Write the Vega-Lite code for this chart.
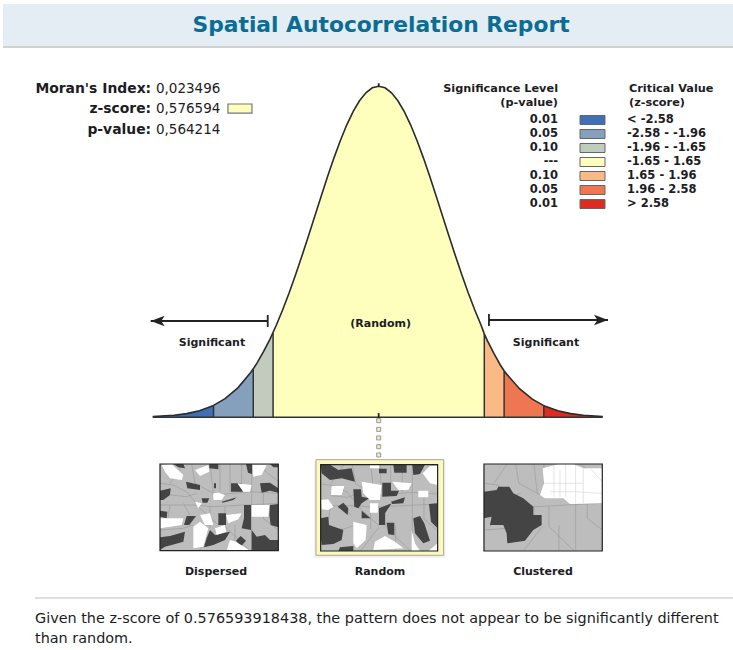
{"$schema":"https://vega.github.io/schema/vega-lite/v6.json","width":733,"height":650,"padding":0,"autosize":{"type":"none"},"background":"white",
"title":{"text":"Spatial Autocorrelation Report","font":"DejaVu Sans","fontSize":21.8,"fontWeight":"bold","color":"#0b6d93","anchor":"middle","frame":"group","baseline":"middle","offset":-46.5,"dx":14.5,"zindex":1},
"config":{"view":{"stroke":null},"text":{"font":"DejaVu Sans","fontSize":10,"color":"#1c1c24"}},
"datasets":{
"curve":[
{"band":"b1","z":-3.53,"d":0.0008},{"band":"b1","z":-3.2,"d":0.0024},{"band":"b1","z":-3.0,"d":0.0044},{"band":"b1","z":-2.8,"d":0.0079},{"band":"b1","z":-2.58,"d":0.0143},
{"band":"b2","z":-2.58,"d":0.0143},{"band":"b2","z":-2.4,"d":0.0224},{"band":"b2","z":-2.2,"d":0.0355},{"band":"b2","z":-2.0,"d":0.054},{"band":"b2","z":-1.96,"d":0.0584},
{"band":"b3","z":-1.96,"d":0.0584},{"band":"b3","z":-1.9,"d":0.0656},{"band":"b3","z":-1.8,"d":0.079},{"band":"b3","z":-1.7,"d":0.094},{"band":"b3","z":-1.65,"d":0.1023},
{"band":"b4","z":-1.65,"d":0.1023},{"band":"b4","z":-1.6,"d":0.1109},{"band":"b4","z":-1.5,"d":0.1295},{"band":"b4","z":-1.4,"d":0.1497},{"band":"b4","z":-1.3,"d":0.1714},{"band":"b4","z":-1.2,"d":0.1942},{"band":"b4","z":-1.1,"d":0.2179},{"band":"b4","z":-1.0,"d":0.242},{"band":"b4","z":-0.9,"d":0.2661},{"band":"b4","z":-0.8,"d":0.2897},{"band":"b4","z":-0.7,"d":0.3123},{"band":"b4","z":-0.6,"d":0.3332},{"band":"b4","z":-0.5,"d":0.3521},{"band":"b4","z":-0.4,"d":0.3683},{"band":"b4","z":-0.3,"d":0.3814},{"band":"b4","z":-0.2,"d":0.391},{"band":"b4","z":-0.1,"d":0.397},{"band":"b4","z":0,"d":0.3989},{"band":"b4","z":0.1,"d":0.397},{"band":"b4","z":0.2,"d":0.391},{"band":"b4","z":0.3,"d":0.3814},{"band":"b4","z":0.4,"d":0.3683},{"band":"b4","z":0.5,"d":0.3521},{"band":"b4","z":0.6,"d":0.3332},{"band":"b4","z":0.7,"d":0.3123},{"band":"b4","z":0.8,"d":0.2897},{"band":"b4","z":0.9,"d":0.2661},{"band":"b4","z":1.0,"d":0.242},{"band":"b4","z":1.1,"d":0.2179},{"band":"b4","z":1.2,"d":0.1942},{"band":"b4","z":1.3,"d":0.1714},{"band":"b4","z":1.4,"d":0.1497},{"band":"b4","z":1.5,"d":0.1295},{"band":"b4","z":1.6,"d":0.1109},{"band":"b4","z":1.65,"d":0.1005},
{"band":"b5","z":1.65,"d":0.1005},{"band":"b5","z":1.7,"d":0.092},{"band":"b5","z":1.8,"d":0.077},{"band":"b5","z":1.9,"d":0.063},{"band":"b5","z":1.96,"d":0.056},
{"band":"b6","z":1.96,"d":0.056},{"band":"b6","z":2.0,"d":0.052},{"band":"b6","z":2.2,"d":0.0345},{"band":"b6","z":2.4,"d":0.0218},{"band":"b6","z":2.58,"d":0.014},
{"band":"b7","z":2.58,"d":0.014},{"band":"b7","z":2.8,"d":0.0079},{"band":"b7","z":3.0,"d":0.0044},{"band":"b7","z":3.2,"d":0.0024},{"band":"b7","z":3.5,"d":0.0008}],
"legendRows":[{"band":"b1","p":"0.01","crit":"\u00a0< -2.58"},{"band":"b2","p":"0.05","crit":"-2.58 - -1.96"},{"band":"b3","p":"0.10","crit":"-1.96 - -1.65"},{"band":"b4","p":"---","crit":"-1.65 - 1.65"},{"band":"b5","p":"0.10","crit":"\u00a01.65 - 1.96"},{"band":"b6","p":"0.05","crit":"\u00a01.96 - 2.58"},{"band":"b7","p":"0.01","crit":"\u00a0> 2.58"}],
"legendHead":[{"band":"h1","p":"Significance Level","crit":"Critical Value"},{"band":"h2","p":"(p-value)","crit":"(z-score)"}],
"net":[{"type":"Feature","properties":{},"geometry":{"type":"MultiLineString","coordinates":[
[[30,100],[70,105],[110,125],[150,175],[205,225]],[[125,42],[135,100],[200,135],[300,125],[385,130]],[[305,42],[305,302]],[[30,165],[130,165],[190,170],[280,165],[385,160]],[[255,225],[255,300]],[[180,42],[190,130]],[[240,42],[240,125]],[[100,160],[120,195]],[[60,135],[110,140],[140,130]],[[30,240],[100,235],[130,225]],[[205,230],[150,300]],[[320,42],[385,95]],[[210,42],[210,125]],[[275,42],[275,125]],[[340,130],[340,205],[385,240]],[[180,170],[180,235]],[[225,170],[225,230],[300,302]],[[60,165],[50,230]],[[100,42],[60,100]],
[[512,102],[552,107],[592,127],[632,177],[687,227]],[[607,44],[617,102],[682,137],[782,127],[863,132]],[[787,44],[787,303]],[[512,167],[612,167],[672,172],[762,167],[863,162]],[[737,227],[737,302]],[[662,44],[672,132]],[[722,44],[722,127]],[[582,162],[602,197]],[[542,137],[592,142],[622,132]],[[512,242],[582,237],[612,227]],[[687,232],[632,302]],[[802,44],[863,97]],[[692,44],[692,127]],[[757,44],[757,127]],[[822,132],[822,207],[863,242]],[[662,172],[662,237]],[[707,172],[707,232],[782,303]],[[542,167],[532,232]],[[582,44],[542,102]],
[[1002,100],[1042,105],[1082,125],[1122,175],[1177,225]],[[1097,42],[1107,100],[1172,135],[1272,125],[1357,130]],[[1277,42],[1277,302]],[[1002,165],[1102,165],[1162,170],[1252,165],[1357,160]],[[1227,225],[1227,300]],[[1152,42],[1162,130]],[[1212,42],[1212,125]],[[1072,160],[1092,195]],[[1032,135],[1082,140],[1112,130]],[[1002,240],[1072,235],[1102,225]],[[1177,230],[1122,300]],[[1292,42],[1357,95]],[[1182,42],[1182,125]],[[1247,42],[1247,125]],[[1312,130],[1312,205],[1357,240]],[[1152,170],[1152,235]],[[1197,170],[1197,230],[1272,302]],[[1032,165],[1022,230]],[[1072,42],[1032,100]]]}}],
"whiteNet":[{"type":"Feature","properties":{},"geometry":{"type":"MultiLineString","coordinates":[[[1212,42],[1212,140]],[[1247,42],[1247,140]],[[1277,42],[1277,160]],[[1182,100],[1300,100]],[[1300,55],[1300,160]],[[1230,60],[1230,140]],[[1200,125],[1272,125],[1357,130]],[[1320,55],[1357,95]]]}}],
"frames":[{"type":"Feature","properties":{},"geometry":{"type":"MultiPolygon","coordinates":[[[[30,42],[385,42],[385,302],[30,302],[30,42]]],[[[512,44],[863,44],[863,303],[512,303],[512,44]]],[[[1002,42],[1357,42],[1357,303],[1002,303],[1002,42]]]]}}],
"shadow":[{"type":"Feature","properties":{},"geometry":{"type":"Polygon","coordinates":[[[492,34],[887,34],[887,324],[492,324],[492,34]]]}}],
"mat":[{"type":"Feature","properties":{},"geometry":{"type":"Polygon","coordinates":[[[498,29],[881,29],[881,316],[498,316],[498,29]]]}}],
"base":[{"type":"Feature","properties":{},"geometry":{"type":"MultiPolygon","coordinates":[[[[30,42],[385,42],[385,302],[30,302],[30,42]]],[[[512,44],[863,44],[863,303],[512,303],[512,44]]],[[[1002,42],[1357,42],[1357,303],[1002,303],[1002,42]]]]}}],
"maps":[
{"type":"Feature","properties":{"cls":"dark"},"geometry":{"type":"MultiPolygon","coordinates":[
[[[70,42],[100,42],[105,55],[85,52],[70,42]]],
[[[178,42],[205,42],[205,58],[178,55],[178,42]]],
[[[288,42],[306,42],[306,72],[294,68],[288,42]]],
[[[360,42],[385,42],[385,52],[370,52],[360,42]]],
[[[108,95],[150,105],[150,120],[112,115],[108,95]]],
[[[243,100],[275,100],[278,125],[243,125],[243,100]]],
[[[330,100],[360,98],[385,115],[385,128],[360,122],[335,128],[330,100]]],
[[[30,122],[62,115],[60,135],[40,150],[30,150],[30,122]]],
[[[155,145],[178,145],[172,158],[158,158],[155,145]]],
[[[215,155],[260,142],[250,150],[218,158],[215,155]]],
[[[192,100],[198,100],[198,115],[192,115],[192,100]]],
[[[30,182],[52,185],[50,205],[30,200],[30,182]]],
[[[110,198],[138,198],[118,225],[102,225],[110,198]]],
[[[205,190],[228,190],[228,225],[205,225],[205,190]]],
[[[282,165],[303,165],[303,240],[275,235],[282,205],[282,165]]],
[[[360,165],[385,162],[385,232],[362,225],[358,195],[360,165]]],
[[[30,262],[60,258],[105,245],[100,275],[65,285],[45,290],[30,300],[30,262]]],
[[[180,240],[195,255],[240,245],[225,270],[190,285],[162,292],[170,265],[180,240]]],
[[[272,258],[288,272],[272,290],[258,272],[272,258]]],
[[[305,240],[320,260],[345,255],[360,270],[385,270],[385,302],[305,302],[305,240]]],
[[[512,44],[540,44],[565,60],[605,55],[615,95],[575,85],[540,90],[515,70],[512,44]]],
[[[687,56],[710,56],[710,70],[687,70],[687,56]]],
[[[730,44],[770,44],[770,68],[733,68],[730,44]]],
[[[787,44],[825,44],[810,72],[790,75],[787,44]]],
[[[610,118],[633,118],[635,140],[658,145],[635,160],[625,175],[613,170],[610,118]]],
[[[697,98],[723,98],[723,122],[747,122],[740,138],[697,140],[697,98]]],
[[[563,170],[580,158],[595,175],[593,195],[563,170]]],
[[[635,182],[662,205],[635,205],[635,182]]],
[[[723,155],[765,142],[760,160],[727,162],[723,155]]],
[[[687,175],[725,160],[705,190],[705,225],[687,225],[687,175]]],
[[[837,162],[863,160],[863,235],[843,215],[837,162]]],
[[[790,205],[810,198],[823,220],[840,272],[820,280],[795,250],[790,205]]],
[[[710,218],[733,218],[733,255],[715,253],[710,218]]],
[[[512,205],[535,200],[537,225],[580,240],[575,270],[550,282],[515,285],[512,260],[512,205]]],
[[[570,292],[610,288],[610,303],[565,303],[570,292]]],
[[[1002,125],[1040,120],[1045,110],[1078,110],[1090,130],[1120,145],[1150,170],[1150,195],[1175,195],[1175,225],[1150,240],[1125,272],[1072,280],[1070,250],[1060,225],[1020,225],[1025,200],[1002,205],[1002,125]]]]}},
{"type":"Feature","properties":{"cls":"white"},"geometry":{"type":"MultiPolygon","coordinates":[
[[[35,45],[65,42],[100,75],[95,90],[60,85],[45,65],[35,45]]],
[[[135,60],[175,45],[178,65],[150,78],[135,60]]],
[[[308,45],[350,45],[335,75],[310,80],[308,45]]],
[[[205,128],[225,135],[215,150],[190,150],[190,130],[205,128]]],
[[[262,100],[305,105],[300,125],[280,125],[262,100]]],
[[[135,155],[155,160],[145,175],[135,155]]],
[[[305,165],[358,165],[355,200],[305,200],[305,165]]],
[[[228,195],[275,190],[265,208],[235,220],[228,195]]],
[[[150,195],[180,190],[190,225],[165,225],[150,195]]],
[[[130,230],[150,215],[175,235],[160,290],[130,295],[130,230]]],
[[[30,205],[100,205],[95,225],[60,230],[30,235],[30,205]]],
[[[195,235],[225,225],[228,245],[200,255],[195,235]]],
[[[240,270],[258,275],[300,302],[230,302],[240,270]]],
[[[660,44],[687,44],[687,55],[660,55],[660,44]]],
[[[818,70],[840,48],[863,48],[863,105],[840,100],[818,70]]],
[[[545,108],[583,108],[575,135],[543,135],[545,108]]],
[[[512,150],[535,148],[550,170],[535,180],[515,178],[512,150]]],
[[[635,95],[695,105],[690,150],[660,150],[640,130],[635,95]]],
[[[727,95],[785,100],[775,120],[745,120],[727,95]]],
[[[805,122],[835,122],[835,142],[805,142],[805,122]]],
[[[660,160],[685,160],[683,188],[660,188],[660,160]]],
[[[610,215],[650,225],[647,270],[620,295],[610,280],[610,215]]],
[[[675,275],[705,258],[735,275],[760,295],[670,300],[675,275]]],
[[[785,240],[795,280],[810,303],[785,303],[785,240]]],
[[[863,280],[863,303],[835,303],[863,280]]],
[[[1178,55],[1225,42],[1270,42],[1300,55],[1357,55],[1357,160],[1260,162],[1240,145],[1185,145],[1170,135],[1182,100],[1178,55]]]]}}]
},
"resolve":{"scale":{"x":"independent","y":"independent","color":"independent"}},
"layer":[
{"encoding":{"x":{"field":"z","type":"quantitative","axis":null,"scale":{"domain":[-5.917,5.536],"nice":false,"zero":false}},"y":{"field":"d","type":"quantitative","axis":null,"scale":{"domain":[-0.2804,0.5028],"nice":false,"zero":false}}},
"layer":[
{"data":{"values":[{"z":-5.87,"z2":5.536,"d":0.498,"d2":0.4474}]},"mark":{"type":"rect","fill":"#e3edf3"},"encoding":{"x2":{"field":"z2"},"y2":{"field":"d2"}}},
{"data":{"values":[{"z":-5.87,"z2":5.536,"d":0.4462}]},"mark":{"type":"rule","stroke":"#cfd2d3","strokeWidth":2},"encoding":{"x2":{"field":"z2"}}},
{"data":{"values":[{"z":-5.37,"z2":5.536,"d":-0.2177}]},"mark":{"type":"rule","stroke":"#dfdfdf","strokeWidth":2},"encoding":{"x2":{"field":"z2"}}},
{"data":{"name":"curve"},"mark":{"type":"area","opacity":1},"encoding":{"y":{"field":"d","type":"quantitative","stack":null},"y2":{"datum":0},"color":{"field":"band","type":"nominal","legend":null,"scale":{"domain":["b1","b2","b3","b4","b5","b6","b7"],"range":["#3f6fb5","#84a0bd","#c1ccbf","#feffbc","#fbb985","#ee7752","#dc2c20"]}}}},
{"data":{"values":[{"z":-2.58,"d":0.0143},{"z":-1.96,"d":0.0584},{"z":-1.65,"d":0.1023},{"z":1.65,"d":0.1005},{"z":1.96,"d":0.056},{"z":2.58,"d":0.014}]},"mark":{"type":"rule","stroke":"#333","strokeWidth":1.5},"encoding":{"y2":{"datum":0}}},
{"data":{"name":"curve"},"mark":{"type":"line","stroke":"#2b2b2b","strokeWidth":1.6},"encoding":{"detail":{"field":"band"}}},
{"data":{"values":[{"z":-3.53,"z2":3.5,"d":0}]},"mark":{"type":"rule","stroke":"#333","strokeWidth":1.6},"encoding":{"x2":{"field":"z2"}}},
{"data":{"values":[{"z":-3.562,"z2":-1.734,"d":0.116,"d2":0.116},{"z":1.723,"z2":3.583,"d":0.1172,"d2":0.1172},{"z":-1.734,"z2":-1.734,"d":0.1233,"d2":0.1088},{"z":1.723,"z2":1.723,"d":0.1245,"d2":0.11},{"z":0,"z2":0,"d":0,"d2":0.005},{"z":0,"z2":0,"d":0.3989,"d2":0.4025}]},"mark":{"type":"rule","stroke":"#222","strokeWidth":1.8},"encoding":{"x2":{"field":"z2"},"y2":{"field":"d2"}}},
{"data":{"values":[{"z":3.473,"d":0.1172}]},"mark":{"type":"point","shape":"M1,0 L-1,-0.75 L-0.5,0 L-1,0.75 Z","size":196,"filled":true,"fill":"#222","opacity":1}},
{"data":{"values":[{"z":-3.453,"d":0.116}]},"mark":{"type":"point","shape":"M-1,0 L1,-0.75 L0.5,0 L1,0.75 Z","size":196,"filled":true,"fill":"#222","opacity":1}},
{"data":{"values":[{"z":0,"d":-0.0041},{"z":0,"d":-0.0146},{"z":0,"d":-0.0249},{"z":0,"d":-0.0354},{"z":0,"d":-0.0454}]},"mark":{"type":"point","shape":"square","size":16,"filled":true,"fill":"#f1edb4","stroke":"#999","strokeWidth":1,"opacity":1}},
{"data":{"values":[{"band":"b4","z":-2.355,"z2":-1.98,"d":0.3775,"d2":0.3666}]},"mark":{"type":"rect","fill":"#feffbc","stroke":"#777","strokeWidth":1.2},"encoding":{"x2":{"field":"z2"},"y2":{"field":"d2"}}},
{"data":{"values":[{"z":-3.555,"d":0.3967,"t":"Moran's Index:"},{"z":-3.555,"d":0.3727,"t":"z-score:"},{"z":-3.555,"d":0.3473,"t":"p-value:"}]},"mark":{"type":"text","align":"right","baseline":"middle","fontWeight":"bold","fontSize":13.9,"dy":1},"encoding":{"text":{"field":"t"}}},
{"data":{"values":[{"z":-3.48,"d":0.3967,"t":"0,023496"},{"z":-3.48,"d":0.3727,"t":"0,576594"},{"z":-3.48,"d":0.3473,"t":"0,564214"}]},"mark":{"type":"text","align":"left","baseline":"middle","fontSize":13.5,"dy":1},"encoding":{"text":{"field":"t"}}},
{"data":{"values":[{"z":-2.605,"d":0.0907,"t":"Significant"},{"z":2.614,"d":0.0907,"t":"Significant"},{"z":0.03,"d":0.1136,"t":"(Random)"},{"z":-2.542,"d":-0.1852,"t":"Dispersed"},{"z":0.02,"d":-0.1852,"t":"Random"},{"z":2.567,"d":-0.1852,"t":"Clustered"}]},"mark":{"type":"text","align":"center","baseline":"middle","fontWeight":"bold","fontSize":11,"dy":1},"encoding":{"text":{"field":"t"}}},
{"data":{"values":[{"z":-5.37,"d":-0.2418,"t":"Given the z-score of 0.576593918438, the pattern does not appear to be significantly different"},{"z":-5.37,"d":-0.2659,"t":"than random."}]},"mark":{"type":"text","align":"left","baseline":"middle","fontSize":14.4,"dy":1},"encoding":{"text":{"field":"t"}}}
]},
{"encoding":{"y":{"field":"band","type":"nominal","axis":null,"scale":{"type":"point","domain":["h1","h2","b1","b2","b3","b4","b5","b6","b7"],"range":[92,204],"padding":0}}},
"layer":[
{"data":{"name":"legendRows"},"mark":{"type":"rect","width":25,"height":9,"stroke":"#666","strokeWidth":1},"encoding":{"x":{"datum":"swatch","type":"nominal","axis":null,"scale":{"type":"point","domain":["p","swatch","crit"],"range":[558,627],"padding":0}},"color":{"field":"band","type":"nominal","legend":null,"scale":{"domain":["b1","b2","b3","b4","b5","b6","b7"],"range":["#3f6fb5","#84a0bd","#c1ccbf","#feffbc","#fbb985","#ee7752","#dc2c20"]}}}},
{"data":{"name":"legendRows"},"mark":{"type":"text","align":"right","baseline":"middle","fontWeight":"bold","fontSize":11.5},"encoding":{"x":{"datum":"p","type":"nominal"},"text":{"field":"p"}}},
{"data":{"name":"legendRows"},"mark":{"type":"text","align":"left","baseline":"middle","fontWeight":"bold","fontSize":11.5},"encoding":{"x":{"datum":"crit","type":"nominal"},"text":{"field":"crit"}}},
{"data":{"name":"legendHead"},"mark":{"type":"text","align":"right","baseline":"middle","fontWeight":"bold","fontSize":11.3,"dy":-3},"encoding":{"x":{"datum":"p","type":"nominal"},"text":{"field":"p"}}},
{"data":{"name":"legendHead"},"mark":{"type":"text","align":"left","baseline":"middle","fontWeight":"bold","fontSize":11.3,"dy":-3,"dx":2},"encoding":{"x":{"datum":"crit","type":"nominal"},"text":{"field":"crit"}}}
]},
{"projection":{"type":"identity","scale":0.3333,"translate":[150,450]},
"layer":[
{"data":{"name":"shadow"},"mark":{"type":"geoshape","fill":"#f2f2f0"}},
{"data":{"name":"mat"},"mark":{"type":"geoshape","fill":"#fbf9bb","stroke":"#a8a8a0","strokeWidth":1}},
{"data":{"name":"base"},"mark":{"type":"geoshape","fill":"#bdbdbd"}},
{"data":{"name":"net"},"mark":{"type":"geoshape","filled":false,"stroke":"#989898","strokeWidth":0.6}},
{"data":{"name":"maps"},"mark":{"type":"geoshape"},"encoding":{"color":{"field":"properties.cls","type":"nominal","legend":null,"scale":{"domain":["dark","white"],"range":["#444444","#ffffff"]}}}},
{"data":{"name":"whiteNet"},"mark":{"type":"geoshape","filled":false,"stroke":"#d4d4d4","strokeWidth":0.6}},
{"data":{"name":"frames"},"mark":{"type":"geoshape","filled":false,"stroke":"#222","strokeWidth":1.2}}
]}
]}
